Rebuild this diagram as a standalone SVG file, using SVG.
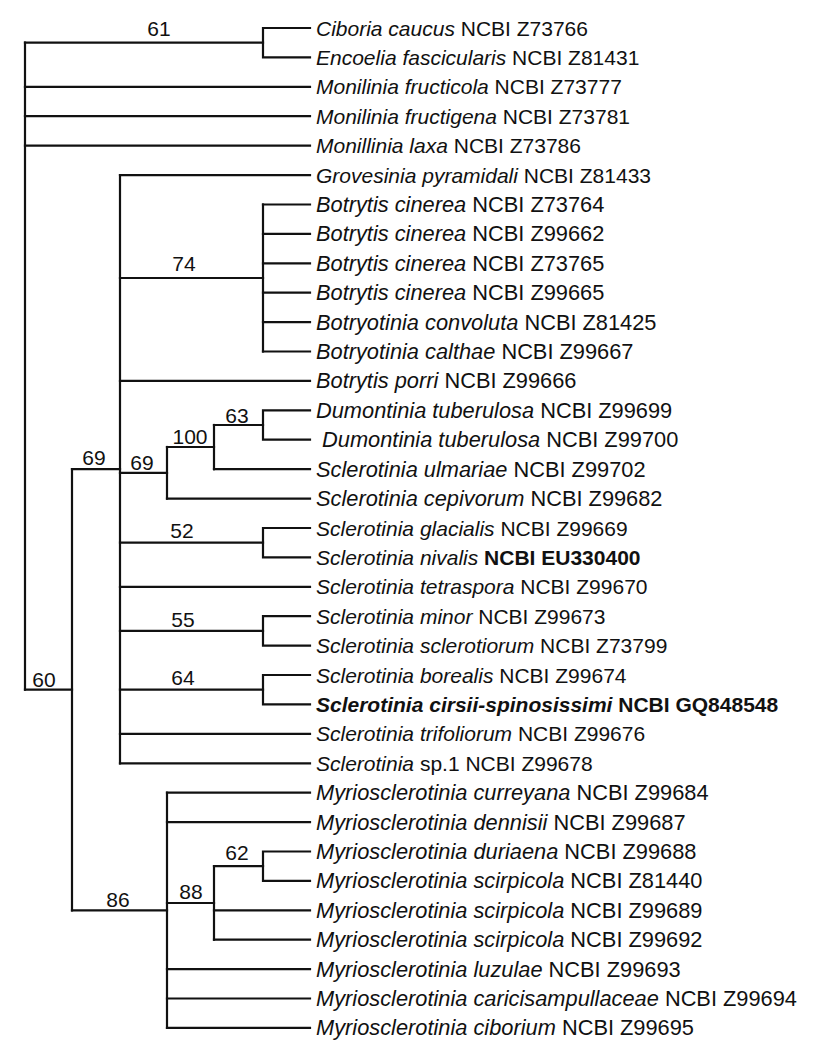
<svg xmlns="http://www.w3.org/2000/svg" width="826" height="1056" viewBox="0 0 826 1056">
<style>
text{font-family:"Liberation Sans",Arial,sans-serif;font-size:21px;fill:#111}
.L text{font-size:21.8px}
.i{font-style:italic}
.b{font-weight:bold}
.bs{text-anchor:middle}
#connectors path{fill:none;stroke:#111;stroke-width:2.2;stroke-linejoin:miter;stroke-linecap:square}
</style>
<rect width="826" height="1056" fill="#fff"/>
<g id="connectors">
<path d="M25 42.7 V689.7"/>
<path d="M25 42.7 H263"/><path d="M310 28 H263 V57.4 H310"/>
<path d="M25 86.8 H310"/><path d="M25 116.2 H310"/><path d="M25 145.6 H310"/>
<path d="M25 689.7 H72"/><path d="M72 469.2 V910.3"/>
<path d="M72 469.2 H120"/><path d="M120 175.1 V763.3"/>
<path d="M120 175.1 H310"/>
<path d="M120 278 H263"/><path d="M263 204.5 V351.5"/>
<path d="M263 204.5 H310"/><path d="M263 233.9 H310"/><path d="M263 263.3 H310"/><path d="M263 292.7 H310"/><path d="M263 322.1 H310"/><path d="M263 351.5 H310"/>
<path d="M120 380.9 H310"/>
<path d="M120 472.8 H167"/><path d="M167 447 V498.6"/><path d="M167 498.6 H310"/>
<path d="M167 447 H214"/><path d="M214 425 V469.2"/><path d="M214 469.2 H310"/>
<path d="M214 425 H263"/><path d="M310 410.3 H263 V439.7 H310"/>
<path d="M120 542.7 H263"/><path d="M310 528 H263 V557.4 H310"/>
<path d="M120 586.8 H310"/>
<path d="M120 630.9 H263"/><path d="M310 616.2 H263 V645.6 H310"/>
<path d="M120 689.7 H263"/><path d="M310 675 H263 V704.4 H310"/>
<path d="M120 733.8 H310"/><path d="M120 763.3 H310"/>
<path d="M72 910.3 H167"/><path d="M167 792.7 V1027.9"/>
<path d="M167 792.7 H310"/><path d="M167 822.1 H310"/><path d="M167 969.1 H310"/><path d="M167 998.5 H310"/><path d="M167 1027.9 H310"/>
<path d="M167 903 H214"/><path d="M214 866.2 V939.7"/><path d="M214 910.3 H310"/><path d="M214 939.7 H310"/>
<path d="M214 866.2 H263"/><path d="M310 851.5 H263 V880.9 H310"/>
</g>
<g id="support-labels">
<text class="bs" x="159" y="36">61</text>
<text class="bs" x="184" y="271">74</text>
<text class="bs" x="94" y="465">69</text>
<text class="bs" x="142" y="470">69</text>
<text class="bs" x="190" y="444">100</text>
<text class="bs" x="237" y="423">63</text>
<text class="bs" x="182" y="538">52</text>
<text class="bs" x="183" y="627">55</text>
<text class="bs" x="183" y="685">64</text>
<text class="bs" x="44" y="687">60</text>
<text class="bs" x="118" y="907">86</text>
<text class="bs" x="191" y="899">88</text>
<text class="bs" x="237" y="860">62</text>
</g>
<g id="leaf-01"><text x="316" y="35.5"><tspan class="i">Ciboria caucus</tspan> NCBI Z73766</text></g>
<g id="leaf-02"><text x="316" y="64.9"><tspan class="i">Encoelia fascicularis</tspan> NCBI Z81431</text></g>
<g id="leaf-03"><text x="316" y="94.3"><tspan class="i">Monilinia fructicola</tspan> NCBI Z73777</text></g>
<g id="leaf-04"><text x="316" y="123.7"><tspan class="i">Monilinia fructigena</tspan> NCBI Z73781</text></g>
<g id="leaf-05"><text x="316" y="153.1"><tspan class="i">Monillinia laxa</tspan> NCBI Z73786</text></g>
<g id="leaf-06"><text x="316" y="182.6"><tspan class="i">Grovesinia pyramidali</tspan> NCBI Z81433</text></g>
<g id="leaf-07" class="L"><text x="316" y="212"><tspan class="i">Botrytis cinerea</tspan> NCBI Z73764</text></g>
<g id="leaf-08" class="L"><text x="316" y="241.4"><tspan class="i">Botrytis cinerea</tspan> NCBI Z99662</text></g>
<g id="leaf-09" class="L"><text x="316" y="270.8"><tspan class="i">Botrytis cinerea</tspan> NCBI Z73765</text></g>
<g id="leaf-10" class="L"><text x="316" y="300.2"><tspan class="i">Botrytis cinerea</tspan> NCBI Z99665</text></g>
<g id="leaf-11" class="L"><text x="316" y="329.6"><tspan class="i">Botryotinia convoluta</tspan> NCBI Z81425</text></g>
<g id="leaf-12" class="L"><text x="316" y="359"><tspan class="i">Botryotinia calthae</tspan> NCBI Z99667</text></g>
<g id="leaf-13" class="L"><text x="316" y="388.4"><tspan class="i">Botrytis porri</tspan> NCBI Z99666</text></g>
<g id="leaf-14" class="L"><text x="316" y="417.8"><tspan class="i">Dumontinia tuberulosa</tspan> NCBI Z99699</text></g>
<g id="leaf-15" class="L"><text x="316" y="447.2" xml:space="preserve"><tspan class="i"> Dumontinia tuberulosa</tspan> NCBI Z99700</text></g>
<g id="leaf-16" class="L"><text x="316" y="476.7"><tspan class="i">Sclerotinia ulmariae</tspan> NCBI Z99702</text></g>
<g id="leaf-17" class="L"><text x="316" y="506.1"><tspan class="i">Sclerotinia cepivorum</tspan> NCBI Z99682</text></g>
<g id="leaf-18"><text x="316" y="535.5"><tspan class="i">Sclerotinia glacialis</tspan> NCBI Z99669</text></g>
<g id="leaf-19"><text x="316" y="564.9"><tspan class="i">Sclerotinia nivalis</tspan> <tspan class="b">NCBI EU330400</tspan></text></g>
<g id="leaf-20"><text x="316" y="594.3"><tspan class="i">Sclerotinia tetraspora</tspan> NCBI Z99670</text></g>
<g id="leaf-21"><text x="316" y="623.7"><tspan class="i">Sclerotinia minor</tspan> NCBI Z99673</text></g>
<g id="leaf-22"><text x="316" y="653.1"><tspan class="i">Sclerotinia sclerotiorum</tspan> NCBI Z73799</text></g>
<g id="leaf-23"><text x="316" y="682.5"><tspan class="i">Sclerotinia borealis</tspan> NCBI Z99674</text></g>
<g id="leaf-24"><text x="316" y="711.9" class="b"><tspan class="i">Sclerotinia cirsii-spinosissimi</tspan> NCBI GQ848548</text></g>
<g id="leaf-25"><text x="316" y="741.3"><tspan class="i">Sclerotinia trifoliorum</tspan> NCBI Z99676</text></g>
<g id="leaf-26"><text x="316" y="770.8"><tspan class="i">Sclerotinia</tspan> sp.1 NCBI Z99678</text></g>
<g id="leaf-27" class="L"><text x="316" y="800.2"><tspan class="i">Myriosclerotinia curreyana</tspan> NCBI Z99684</text></g>
<g id="leaf-28" class="L"><text x="316" y="829.6"><tspan class="i">Myriosclerotinia dennisii</tspan> NCBI Z99687</text></g>
<g id="leaf-29" class="L"><text x="316" y="859"><tspan class="i">Myriosclerotinia duriaena</tspan> NCBI Z99688</text></g>
<g id="leaf-30" class="L"><text x="316" y="888.4"><tspan class="i">Myriosclerotinia scirpicola</tspan> NCBI Z81440</text></g>
<g id="leaf-31" class="L"><text x="316" y="917.8"><tspan class="i">Myriosclerotinia scirpicola</tspan> NCBI Z99689</text></g>
<g id="leaf-32" class="L"><text x="316" y="947.2"><tspan class="i">Myriosclerotinia scirpicola</tspan> NCBI Z99692</text></g>
<g id="leaf-33" class="L"><text x="316" y="976.6"><tspan class="i">Myriosclerotinia luzulae</tspan> NCBI Z99693</text></g>
<g id="leaf-34" class="L"><text x="316" y="1006"><tspan class="i">Myriosclerotinia caricisampullaceae</tspan> NCBI Z99694</text></g>
<g id="leaf-35" class="L"><text x="316" y="1035.4"><tspan class="i">Myriosclerotinia ciborium</tspan> NCBI Z99695</text></g>
</svg>
